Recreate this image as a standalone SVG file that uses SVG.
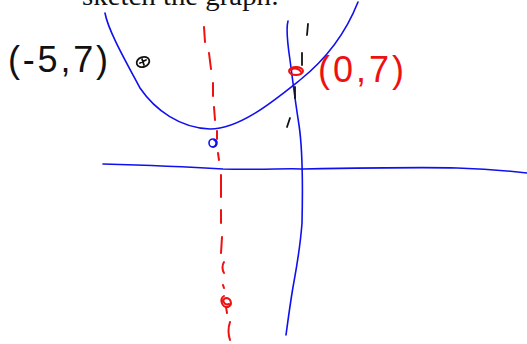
<svg xmlns="http://www.w3.org/2000/svg" width="527" height="344" viewBox="0 0 527 344">
<style>
.blue{fill:none;stroke:#1010ee;stroke-width:1.6;stroke-linecap:round;stroke-linejoin:round}
.red{fill:none;stroke:#ee1111;stroke-width:2;stroke-linecap:round}
.blk{fill:none;stroke:#111;stroke-width:1.8;stroke-linecap:round}
.hand{font-family:"Liberation Sans","DejaVu Sans",sans-serif;font-size:36px}
</style>
<rect width="527" height="344" fill="#fff"/>
<text x="82" y="5" font-family="Liberation Serif,serif" font-size="28" fill="#111" textLength="197" lengthAdjust="spacingAndGlyphs">sketch the graph:</text>
<g id="axes">
<path class="blue" d="M103,164 C140,165 190,167 223,169 C260,170 290,168 303,169 C360,168 420,167 457,168 C490,169 510,171 527,173"/>
<path class="blue" d="M288,21 C286,28 287,40 290,60 C292,75 295,100 299,125 C302,145 303,180 302,223 C300,250 297,265 293,287 C290,305 288,320 286,335"/>
</g>
<g id="parabola">
<path class="blue" d="M105,13 C108,30 125,60 140,88 C155,110 180,128 210,129 C240,129 275,100 300,80 C325,60 345,35 358,2"/>
<ellipse class="blue" cx="213" cy="143" rx="4" ry="4"/>
<path class="blue" d="M214,140 C217,141 217,146 213,147"/>
</g>
<g id="axis-of-symmetry">
<path class="red" d="M204,27 L205,42"/>
<path class="red" d="M209,53 L211,69"/>
<path class="red" d="M213,83 L213,96"/>
<path class="red" d="M214,107 L215,120"/>
<path class="red" d="M217,131 L217,139"/>
<path class="red" d="M218,153 L219,160"/>
<path class="red" d="M221,175 L221,197"/>
<path class="red" d="M221,210 L221,223"/>
<path class="red" d="M222,237 L221,253"/>
<path class="red" d="M224,262 C222,265 222,270 224,273"/>
<path class="red" d="M223,285 L224,288"/>
<path class="red" d="M224,296 C219,299 222,308 228,307 C233,305 231,298 226,298 C221,299 224,306 229,304"/>
<path class="red" d="M226,307 L227,313"/>
<path class="red" d="M230,322 C228,328 228,334 230,340"/>
</g>
<g id="point-left">
<ellipse class="blk" cx="143" cy="62" rx="6.5" ry="5" stroke-width="2.6" transform="rotate(-20 143 62)"/>
<path class="blk" d="M140,63 L146,60 M142,59 L144,65"/>
<text class="hand" x="8" y="72" fill="#111" textLength="100" lengthAdjust="spacing">(-5,7)</text>
</g>
<g id="point-right">
<ellipse class="red" cx="296" cy="71" rx="7" ry="4"/>
<path class="red" d="M291,70 C294,67 300,69 301,72"/>
<text class="hand" x="318" y="82" fill="#ee1111" textLength="86" lengthAdjust="spacing">(0,7)</text>
</g>
<g id="ticks">
<path class="blk" d="M308,24 L307,35"/>
<path class="blk" d="M302,53 L302,65"/>
<path class="blk" d="M295,87 L295,98"/>
<path class="blk" d="M290,118 L287,127"/>
</g>
</svg>
